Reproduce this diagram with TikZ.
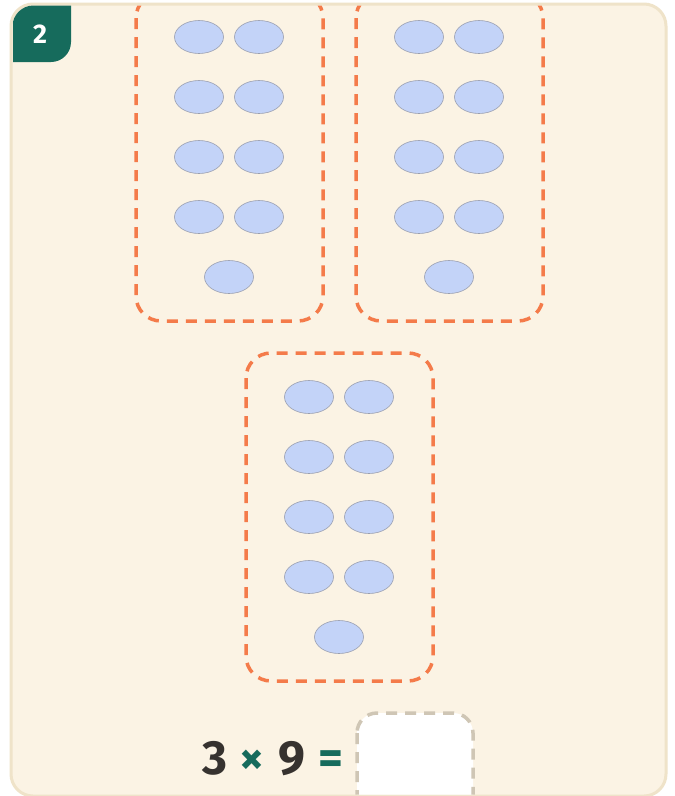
\documentclass[tikz,border=0pt]{standalone}
\usepackage{fontspec}
\setmainfont{Fira Sans}
\definecolor{cardfill}{HTML}{FBF3E4}
\definecolor{cardline}{HTML}{EFE3C9}
\definecolor{badge}{HTML}{166B5C}
\definecolor{grp}{HTML}{F47B4A}
\definecolor{dotfill}{HTML}{C3D3F8}
\definecolor{dotline}{HTML}{9A9FB0}
\definecolor{ink}{HTML}{36322F}
\definecolor{ansline}{HTML}{CFC6B5}
\tikzset{
  dot/.style={ellipse, minimum width=49pt, minimum height=33pt, inner sep=0pt, fill=dotfill, draw=dotline, line width=0.6pt},
  grpbox/.style={draw=grp, line width=3.5pt, rounded corners=25pt, dash pattern=on 11pt off 8pt},
  eqtext/.style={font=\fontsize{48}{48}\selectfont\bfseries, anchor=base, inner sep=0pt},
}
\usetikzlibrary{shapes.geometric}
\begin{document}
\begin{tikzpicture}[x=1pt,y=-1pt]
\useasboundingbox (0,0) rectangle (675,796);
\fill[white] (0,0) rectangle (675,796);
\path[fill=cardfill, draw=cardline, line width=3pt, rounded corners=22pt] (11,4) rectangle (666,796);
\begin{scope}
\clip[rounded corners=21pt] (12.5,5.5) rectangle (664.5,794.5);
% badge
\path[fill=badge] (13,5) -- (71,5) -- (71,42) arc[start angle=0, end angle=90, radius=20pt, x radius=20pt, y radius=-20pt] -- (13,62) -- cycle;
% group boxes
\draw[grpbox] (136,-7) rectangle (323,321);
\draw[grpbox] (356,-7) rectangle (543,321);
\draw[grpbox] (246,353) rectangle (433,681);
% answer box
\draw[ansline, fill=white, line width=3.5pt, rounded corners=20pt, dash pattern=on 11pt off 8pt] (357,713) rectangle (473,830);
\end{scope}
\node[text=white, font=\fontsize{27}{27}\selectfont\bfseries, inner sep=0pt] (num) at (40,34) {2};
% dots group 1
\foreach \r/\y in {1/37,2/97,3/157,4/217}{
  \node[dot] (a\r l) at (199,\y) {};
  \node[dot] (a\r r) at (259,\y) {};
  \node[dot] (b\r l) at (419,\y) {};
  \node[dot] (b\r r) at (479,\y) {};
}
\node[dot] (a5) at (229,277) {};
\node[dot] (b5) at (449,277) {};
\foreach \r/\y in {1/397,2/457,3/517,4/577}{
  \node[dot] (c\r l) at (309,\y) {};
  \node[dot] (c\r r) at (369,\y) {};
}
\node[dot] (c5) at (339,637) {};
% equation
\node[eqtext, text=ink] (three) at (215,774) {3};
\node[eqtext, text=badge] (times) at (252,774) {×};
\node[eqtext, text=ink] (nine) at (292,774) {9};
\node[eqtext, text=badge] (eq) at (331,774) {=};
\end{tikzpicture}
\end{document}
